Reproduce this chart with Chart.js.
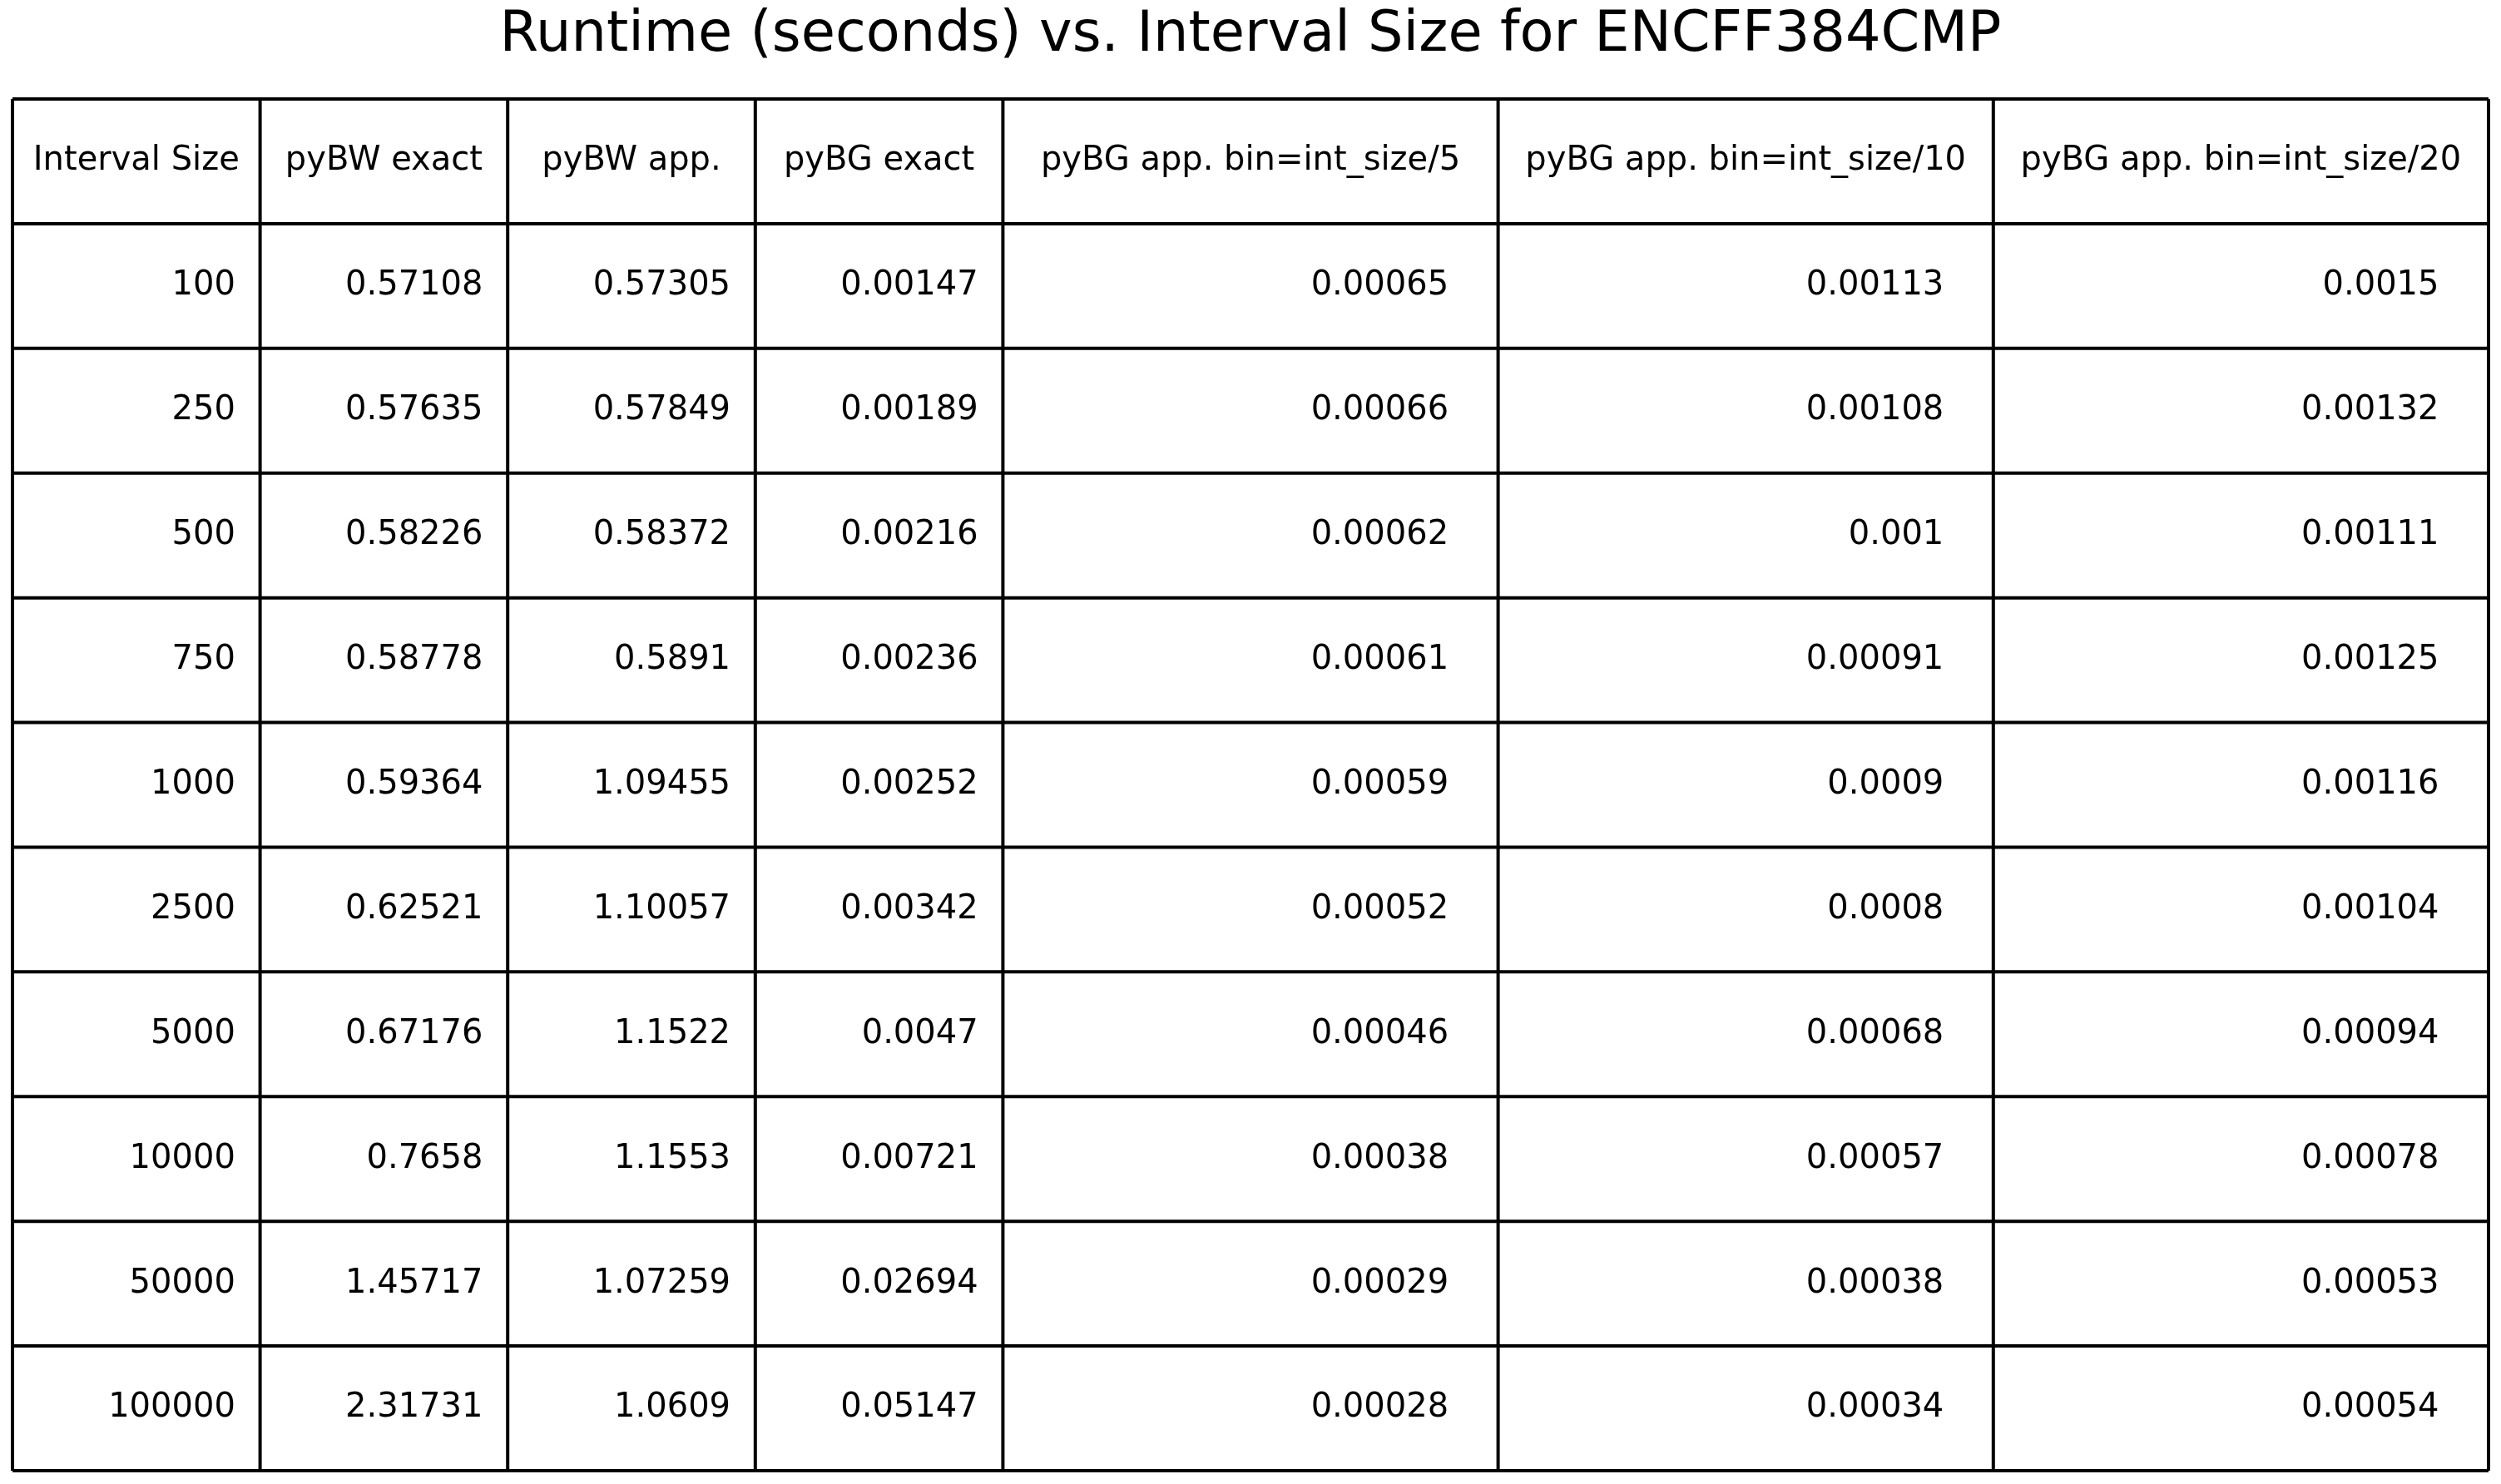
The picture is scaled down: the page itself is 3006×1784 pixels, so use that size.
<!DOCTYPE html>
<html>
<head>
<meta charset="utf-8">
<script src="https://cdn.jsdelivr.net/npm/chart.js@4"></script>
<style>
  html, body { margin: 0; padding: 0; background: #fff; }
  canvas { display: block; }
</style>
</head>
<body>
<canvas id="tableChart" width="3006" height="1784"></canvas>
<script>
const title = "Runtime (seconds) vs. Interval Size for ENCFF384CMP";
const columns = ["Interval Size", "pyBW exact", "pyBW app.", "pyBG exact",
  "pyBG app. bin=int_size/5", "pyBG app. bin=int_size/10", "pyBG app. bin=int_size/20"];
const columnUnits = [1, 1, 1, 1, 2, 2, 2];
const intervalSizes = ["100", "250", "500", "750", "1000", "2500", "5000", "10000", "50000", "100000"];
const pyBWExact = ["0.57108", "0.57635", "0.58226", "0.58778", "0.59364", "0.62521", "0.67176", "0.7658", "1.45717", "2.31731"];
const pyBWApp = ["0.57305", "0.57849", "0.58372", "0.5891", "1.09455", "1.10057", "1.1522", "1.1553", "1.07259", "1.0609"];
const pyBGExact = ["0.00147", "0.00189", "0.00216", "0.00236", "0.00252", "0.00342", "0.0047", "0.00721", "0.02694", "0.05147"];
const pyBGApp5 = ["0.00065", "0.00066", "0.00062", "0.00061", "0.00059", "0.00052", "0.00046", "0.00038", "0.00029", "0.00028"];
const pyBGApp10 = ["0.00113", "0.00108", "0.001", "0.00091", "0.0009", "0.0008", "0.00068", "0.00057", "0.00038", "0.00034"];
const pyBGApp20 = ["0.0015", "0.00132", "0.00111", "0.00125", "0.00116", "0.00104", "0.00094", "0.00078", "0.00053", "0.00054"];

const body = [intervalSizes, pyBWExact, pyBWApp, pyBGExact, pyBGApp5, pyBGApp10, pyBGApp20];
const totalUnits = columnUnits.reduce((a, b) => a + b, 0);
const totalRows = intervalSizes.length + 1;

// draws the table through the hidden x/y scales
const tablePlugin = {
  id: "tablePlugin",
  afterDraw(chart) {
    const ctx = chart.ctx;
    const xs = chart.scales.x, ys = chart.scales.y;
    const edges = [0];
    columnUnits.forEach(u => edges.push(edges[edges.length - 1] + u));

    ctx.save();
    ctx.fillStyle = "#000";
    ctx.font = "67px 'DejaVu Sans'";
    ctx.textAlign = "center";
    ctx.textBaseline = "middle";
    ctx.fillText(title, chart.width / 2, 44);

    ctx.strokeStyle = "#000";
    ctx.lineWidth = 4;
    ctx.beginPath();
    edges.forEach(e => {
      const x = xs.getPixelForValue(e);
      ctx.moveTo(x, ys.getPixelForValue(0));
      ctx.lineTo(x, ys.getPixelForValue(totalRows));
    });
    for (let r = 0; r <= totalRows; r++) {
      const y = ys.getPixelForValue(r);
      ctx.moveTo(xs.getPixelForValue(0), y);
      ctx.lineTo(xs.getPixelForValue(totalUnits), y);
    }
    ctx.stroke();

    ctx.font = "40px 'DejaVu Sans'";
    columns.forEach((c, i) => {
      ctx.textAlign = "center";
      ctx.fillText(c, xs.getPixelForValue((edges[i] + edges[i + 1]) / 2), ys.getPixelForValue(0.5));
      ctx.textAlign = "right";
      const xr = xs.getPixelForValue(edges[i + 1] - 0.1 * columnUnits[i]);
      body[i].forEach((v, r) => {
        ctx.fillText(v, xr, ys.getPixelForValue(r + 1.5));
      });
    });
    ctx.restore();
  }
};

new Chart(document.getElementById("tableChart"), {
  type: "scatter",
  data: { datasets: [{ data: [] }] },
  options: {
    responsive: false,
    animation: false,
    devicePixelRatio: 1,
    layout: { padding: { left: 15, right: 15, top: 119, bottom: 16 } },
    plugins: { legend: { display: false }, tooltip: { enabled: false } },
    scales: {
      x: { type: "linear", min: 0, max: totalUnits, display: false },
      y: { type: "linear", min: 0, max: totalRows, reverse: true, display: false }
    }
  },
  plugins: [tablePlugin]
});
</script>
</body>
</html>
